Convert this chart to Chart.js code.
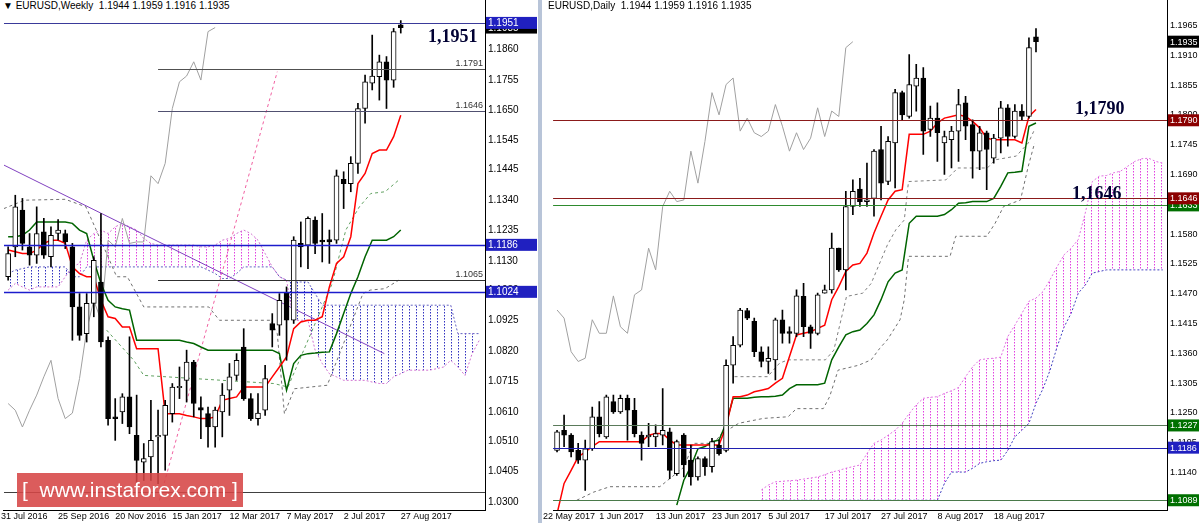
<!DOCTYPE html>
<html>
<head>
<meta charset="utf-8">
<script src="https://cdn.jsdelivr.net/npm/chart.js@4/dist/chart.umd.min.js"></script>
<style>
  body { margin:0; width:1200px; height:523px; background:#fff; position:relative; overflow:hidden; font-family:"Liberation Sans", Arial, sans-serif; }
  .pane { position:absolute; top:-9px; height:532px; }
  #wk { left:0; width:538px; }
  #dy { left:542px; width:658px; }
  #sep { position:absolute; left:538px; top:0; width:4px; height:523px; background:#b8c4d8; }
  .title { position:absolute; top:0; font-size:10px; color:#000; white-space:pre; background:#fff; }
  .note { position:absolute; font:bold 18px "Liberation Serif", serif; color:#000033; }
  #logo { position:absolute; left:17px; top:473px; width:226px; height:34px; background:rgba(214,70,70,0.88); color:#fff; font-size:21px; line-height:34px; text-align:center; white-space:pre; }
</style>
</head>
<body>
<div class="pane" id="wk"><canvas id="weekly"></canvas></div>
<div id="sep"></div>
<div class="pane" id="dy"><canvas id="daily"></canvas></div>
<div class="title" style="left:3px">▼ EURUSD,Weekly  1.1944 1.1959 1.1916 1.1935</div>
<div class="title" style="left:548px">EURUSD,Daily  1.1944 1.1959 1.1916 1.1935</div>
<div class="note" style="left:428px;top:26px">1,1951</div>
<div class="note" style="left:1075px;top:98px">1,1790</div>
<div class="note" style="left:1072px;top:183px">1,1646</div>
<div id="logo">[  www.instaforex.com ]</div>
<script>
// ---------- weekly (index 1 = week of 7 Aug 2016) ----------
const wOpen = [1.1076,1.1179,1.1306,1.1179,1.1150,1.1231,1.1145,1.1225,1.1225,1.1179, 1.0972,1.0880,1.0984,1.1058,1.0857,1.0593,1.0610,1.0662,1.0529,1.0437, 1.0455,1.0524,1.0529,1.0604,1.0694,1.0719,1.0782,1.0625,1.0604,1.0558, 1.0610,1.0685,1.0736,1.0834,1.0656,1.0587,1.0616,1.0915,1.0909,1.1020, 1.0926,1.1191,1.1185,1.1271,1.1202,1.1204,1.1202,1.1412,1.1397,1.1467, 1.1656,1.1743,1.1766,1.1817,1.1754,1.1944];
const wHigh = [1.1179,1.1357,1.1346,1.1225,1.1317,1.1277,1.1248,1.1273,1.1237,1.1191, 1.1018,1.1018,1.1145,1.1294,1.0869,1.0656,1.0673,1.0869,1.0668,1.0501, 1.0650,1.0616,1.0650,1.0708,1.0765,1.0823,1.0788,1.0662,1.0627,1.0627, 1.0708,1.0777,1.0811,1.0897,1.0673,1.0673,1.0771,1.0949,1.1018,1.1041, 1.1214,1.1265,1.1283,1.1283,1.1294,1.1237,1.1444,1.1438,1.1490,1.1674, 1.1771,1.1909,1.1840,1.1835,1.1932,1.1959];
const wLow = [1.1064,1.1145,1.1168,1.1116,1.1122,1.1139,1.1110,1.1202,1.1173,1.0857, 1.0857,1.0851,1.0938,1.0834,1.0564,1.0512,1.0570,1.0535,1.0328,1.0374, 1.0374,1.0363,1.0409,1.0575,1.0656,1.0644,1.0593,1.0518,1.0489,1.0489, 1.0524,1.0598,1.0719,1.0650,1.0581,1.0564,1.0598,1.0834,1.0874,1.0788, 1.0915,1.1110,1.1104,1.1156,1.1127,1.1122,1.1191,1.1311,1.1369,1.1432, 1.1605,1.1720,1.1685,1.1656,1.1729,1.1916];
const wClose = [1.1156,1.1317,1.1191,1.1150,1.1225,1.1150,1.1219,1.1237,1.1196,1.0972, 1.0874,1.0984,1.1133,1.0851,1.0587,1.0587,1.0662,1.0558,1.0443,1.0449, 1.0512,1.0529,1.0633,1.0696,1.0698,1.0782,1.0639,1.0616,1.0558,1.0616, 1.0668,1.0731,1.0788,1.0656,1.0587,1.0606,1.0725,1.0892,1.0995,1.0926, 1.1202,1.1179,1.1277,1.1191,1.1196,1.1196,1.1424,1.1397,1.1467,1.1656, 1.1748,1.1768,1.1817,1.1754,1.1921,1.1935];
const wTenkan = [1.1168,1.1162,1.1156,1.1156,1.1168,1.1191,1.1202,1.1202,1.1191,1.1110, 1.1087,1.1076,1.1076,1.0995,1.0938,1.0932,1.0903,1.0903,1.0828,1.0828, 1.0828,1.0828,1.0604,1.0604,1.0604,1.0598,1.0593,1.0587,1.0587,1.0593, 1.0650,1.0656,1.0662,1.0696,1.0696,1.0696,1.0696,1.0731,1.0765,1.0800, 1.0897,1.0920,1.0926,1.0926,1.0938,1.1041,1.1122,1.1145,1.1214,1.1397, 1.1432,1.1501,1.1513,1.1513,1.1559,1.1633];
const wKijun = [1.1214,1.1214,1.1219,1.1237,1.1265,1.1265,1.1265,1.1265,1.1265,1.1260, 1.1237,1.1225,1.1133,1.1053,1.0995,1.0972,1.0966,1.0961,1.0857,1.0857, 1.0857,1.0857,1.0857,1.0857,1.0857,1.0851,1.0846,1.0834,1.0823,1.0823, 1.0823,1.0823,1.0823,1.0823,1.0823,1.0823,1.0823,1.0823,1.0811,1.0685, 1.0777,1.0805,1.0811,1.0813,1.0816,1.0817,1.0880,1.0949,1.1018,1.1076, 1.1145,1.1202,1.1202,1.1202,1.1214,1.1237];
const wSpanA = [1.1030,1.1053,1.1041,1.1030,1.1041,1.1041,1.1041,1.1041,1.1076,1.1110, 1.1122,1.1202,1.1225,1.1237,1.1225,1.1248,1.1260,1.1248,1.1237,1.1208, 1.1191,1.1185,1.1185,1.1185,1.1185,1.1185,1.1185,1.1179,1.1179,1.1185, 1.1202,1.1208,1.1225,1.1237,1.1225,1.1202,1.1156,1.1110,1.1076,1.1064, 1.0926,1.0926,1.0926,1.0823,1.0777,1.0742,1.0731,1.0719,1.0719,1.0719, 1.0719,1.0713,1.0708,1.0708,1.0731,1.0742,1.0754,1.0754,1.0754,1.0754, 1.0759,1.0765,1.0788,1.0765,1.0736,1.0811,1.0857];
const wSpanB = [1.1087,1.1099,1.1104,1.1110,1.1110,1.1110,1.1110,1.1110,1.1110,1.1076, 1.1076,1.1110,1.1110,1.1110,1.1110,1.1110,1.1110,1.1110,1.1110,1.1110, 1.1110,1.1110,1.1110,1.1110,1.1110,1.1110,1.1110,1.1110,1.1099,1.1087, 1.1070,1.1070,1.1087,1.1110,1.1110,1.1110,1.1110,1.1110,1.1076,1.1064, 1.1058,1.1058,1.1058,1.1018,1.0978,1.0978,1.0978,1.0978,1.0978,1.0978, 1.0978,1.0978,1.0978,1.0978,1.0978,1.0978,1.0978,1.0978,1.0978,1.0978, 1.0978,1.0978,1.0978,1.0880,1.0880,1.0880,1.0880];
// dashed helper lines, sparse [index, price]
const wDash1 = [[0.4,1.1311],[3.3,1.1340],[9,1.1343],[11.9,1.1317],[14.8,1.1156],[16.2,1.1076],[17.7,1.1076],[20,1.0972],[29.1,1.0972],[30.6,1.0926],[37.8,1.0926],[38.7,1.0880],[39.7,1.0604],[41.1,1.0690],[45.7,1.0702],[47.8,1.0834],[50.7,1.1018],[51.7,1.1030],[53.8,1.1035],[55.7,1.1064]];
const wDash2 = [[14.8,1.0892],[18.6,1.0788],[20,1.0736],[31,1.0719],[38.2,1.0708],[40.2,1.0696],[42.6,1.0834],[46.4,1.1053],[48.3,1.1237],[50.2,1.1317],[51.8,1.1363],[53.8,1.1369],[55.7,1.1409]];
const wTrend = [[0.4,1.1461],[53.7,1.0811]];
const wPinkRay = [[22.2,1.0305],[38.7,1.1783]];
const wTicks = [1.0300,1.0405,1.0510,1.0610,1.0715,1.0820,1.0925,1.1030,1.1130,1.1235,1.1340,1.1445,1.1545,1.1650,1.1755,1.1860];
const wDateIdx = [0,8,16,24,32,40,48,56];
const wDates = ['31 Jul 2016','25 Sep 2016','20 Nov 2016','15 Jan 2017','12 Mar 2017','7 May 2017','2 Jul 2017','27 Aug 2017'];

// ---------- daily (index 0 = 24 May 2017) ----------
const dOpen = [1.1181,1.1218,1.1209,1.1181,1.1163,1.1184,1.1243,1.1206,1.1271,1.1252, 1.1277,1.1255,1.1209,1.1206,1.1206,1.1209,1.1215,1.1138,1.1209,1.1163, 1.1132,1.1166,1.1151,1.1191,1.1181,1.1338,1.1375,1.1439,1.1419,1.1363, 1.1345,1.1348,1.1422,1.1400,1.1397,1.1465,1.1409,1.1397,1.1471,1.1477, 1.1554,1.1514,1.1631,1.1663,1.1640,1.1646,1.1736,1.1677,1.1748,1.1841, 1.1797,1.1853,1.1868,1.1773,1.1794,1.1748,1.1754,1.1770,1.1822,1.1782, 1.1733,1.1767,1.1720,1.1757,1.1813,1.1760,1.1807,1.1797,1.1944];
const dHigh = [1.1218,1.1246,1.1212,1.1194,1.1200,1.1261,1.1271,1.1283,1.1283,1.1283, 1.1283,1.1277,1.1215,1.1231,1.1228,1.1295,1.1222,1.1200,1.1212,1.1191, 1.1169,1.1169,1.1203,1.1200,1.1348,1.1391,1.1443,1.1443,1.1425,1.1372, 1.1372,1.1425,1.1440,1.1409,1.1477,1.1489,1.1412,1.1471,1.1486,1.1582, 1.1554,1.1659,1.1680,1.1683,1.1711,1.1736,1.1779,1.1760,1.1847,1.1844, 1.1911,1.1893,1.1887,1.1816,1.1822,1.1770,1.1779,1.1847,1.1834,1.1791, 1.1779,1.1770,1.1764,1.1825,1.1819,1.1819,1.1819,1.1942,1.1959];
const dLow = [1.1178,1.1188,1.1169,1.1157,1.1107,1.1181,1.1206,1.1203,1.1249,1.1249, 1.1200,1.1206,1.1163,1.1188,1.1188,1.1191,1.1129,1.1135,1.1132,1.1117, 1.1126,1.1135,1.1141,1.1172,1.1178,1.1305,1.1372,1.1422,1.1354,1.1335, 1.1323,1.1311,1.1379,1.1379,1.1391,1.1391,1.1369,1.1394,1.1471,1.1471, 1.1511,1.1477,1.1616,1.1631,1.1631,1.1613,1.1643,1.1671,1.1665,1.1791, 1.1794,1.1807,1.1727,1.1760,1.1714,1.1690,1.1702,1.1714,1.1754,1.1683, 1.1699,1.1662,1.1711,1.1730,1.1742,1.1757,1.1791,1.1794,1.1916];
const dClose = [1.1215,1.1209,1.1178,1.1163,1.1184,1.1243,1.1212,1.1280,1.1252,1.1277, 1.1255,1.1212,1.1194,1.1209,1.1212,1.1218,1.1144,1.1197,1.1154,1.1132, 1.1166,1.1151,1.1197,1.1175,1.1338,1.1375,1.1440,1.1425,1.1363,1.1345, 1.1351,1.1422,1.1397,1.1397,1.1466,1.1409,1.1397,1.1468,1.1477,1.1554, 1.1514,1.1631,1.1659,1.1640,1.1643,1.1733,1.1674,1.1751,1.1841,1.1800, 1.1856,1.1868,1.1770,1.1794,1.1767,1.1760,1.1770,1.1819,1.1779,1.1733, 1.1767,1.1736,1.1757,1.1813,1.1760,1.1807,1.1797,1.1924,1.1935];
const dTenkan = [1.1064,1.1120,1.1144,1.1169,1.1178,1.1188,1.1197,1.1197,1.1197,1.1197, 1.1197,1.1197,1.1197,1.1209,1.1212,1.1212,1.1200,1.1191,1.1191,1.1191, 1.1191,1.1191,1.1191,1.1191,1.1225,1.1280,1.1280,1.1283,1.1289,1.1292, 1.1295,1.1305,1.1314,1.1354,1.1394,1.1397,1.1400,1.1406,1.1412,1.1459, 1.1483,1.1511,1.1523,1.1526,1.1545,1.1582,1.1613,1.1643,1.1659,1.1662, 1.1764,1.1764,1.1764,1.1770,1.1785,1.1794,1.1797,1.1800,1.1797,1.1788, 1.1776,1.1757,1.1754,1.1754,1.1754,1.1754,1.1748,1.1797,1.1810];
const dKijun = [null,null,null,null,null,null,null,null,null,null, null,null,null,null,null,null,null,1.1080,1.1126,1.1151, 1.1184,1.1188,1.1197,1.1200,1.1231,1.1277,1.1277,1.1277,1.1279,1.1280, 1.1280,1.1281,1.1283,1.1295,1.1302,1.1302,1.1302,1.1302,1.1305,1.1348, 1.1372,1.1394,1.1400,1.1403,1.1415,1.1431,1.1459,1.1492,1.1508,1.1514, 1.1600,1.1613,1.1613,1.1613,1.1613,1.1616,1.1625,1.1637,1.1638,1.1640, 1.1640,1.1640,1.1646,1.1668,1.1693,1.1694,1.1696,1.1779,1.1785];
// cloud from index 29 onward
const dSpanA = [1.1108,1.1117,1.1123,1.1124,1.1125,1.1126,1.1128,1.1130,1.1132,1.1136, 1.1141,1.1144,1.1148,1.1151,1.1154,1.1175,1.1194,1.1200,1.1209,1.1218, 1.1231,1.1249,1.1265,1.1277,1.1279,1.1280,1.1286,1.1291,1.1297,1.1317, 1.1335,1.1348,1.1350,1.1351,1.1353,1.1391,1.1412,1.1434,1.1456,1.1462, 1.1474,1.1496,1.1520,1.1542,1.1554,1.1570,1.1619,1.1677,1.1687,1.1688, 1.1693,1.1696,1.1705,1.1714,1.1719,1.1720,1.1714,1.1711];
const dSpanB = [1.1089,1.1089,1.1089,1.1089,1.1089,1.1089,1.1089,1.1089,1.1089,1.1089, 1.1089,1.1089,1.1089,1.1089,1.1089,1.1089,1.1089,1.1089,1.1089,1.1089, 1.1089,1.1089,1.1089,1.1089,1.1089,1.1089,1.1120,1.1141,1.1141,1.1141, 1.1148,1.1157,1.1160,1.1162,1.1163,1.1181,1.1206,1.1218,1.1231,1.1268, 1.1295,1.1329,1.1372,1.1409,1.1434,1.1471,1.1486,1.1508,1.1511,1.1514, 1.1514,1.1514,1.1514,1.1514,1.1514,1.1514,1.1514,1.1514];
const dDash1 = [[2.8,1.1089],[5.2,1.1104],[7.5,1.1114],[14.6,1.1114],[18.1,1.1151],[19.3,1.1194],[22.2,1.1194],[23.4,1.1212],[25.8,1.1231],[29.3,1.1240],[32.8,1.1243],[34,1.1258],[37.8,1.1258],[38.7,1.1280],[39.9,1.1329],[42.8,1.1338],[44.6,1.1348],[45.8,1.1369],[46.9,1.1385],[48.7,1.1422],[49.3,1.1459],[49.9,1.1539],[55.8,1.1539],[56.6,1.1576],[61,1.1576],[62.2,1.1600],[63.4,1.1631],[65.8,1.1643],[66.9,1.1705],[67.8,1.1748]];
const dDash2 = [[25.2,1.1317],[29.9,1.1317],[31.6,1.1342],[32.8,1.1348],[38.1,1.1348],[39.3,1.1366],[41.1,1.1465],[43.4,1.1471],[44.6,1.1489],[46.9,1.1560],[48.1,1.1588],[49.3,1.1606],[49.9,1.1677],[55.2,1.1680],[56.9,1.1702],[61.1,1.1702],[62.2,1.1717],[65.2,1.1724],[66.9,1.1748],[67.8,1.1773]];
const dTicks = [1.1085,1.1140,1.1195,1.1250,1.1305,1.1360,1.1415,1.1470,1.1525,1.1580,1.1635,1.1690,1.1745,1.1800,1.1855,1.1910,1.1965];
const dDateIdx = [-2,6,14,22,30,38,46,54,62];
const dDates = ['22 May 2017','1 Jun 2017','13 Jun 2017','23 Jun 2017','5 Jul 2017','17 Jul 2017','27 Jul 2017','8 Aug 2017','18 Aug 2017'];

// levels: [price, colour, width, fromIndex or null]
const wLevels = [[1.1951,'#3a3a9a',1,null],[1.1791,'#505050',1,22],[1.1646,'#505070',1,22],[1.1065,'#303030',1,22],[1.1186,'#1c1ccc',1.5,null],[1.1024,'#1c1ccc',1.5,null],[1.0334,'#404040',1,null]];
const wLevelText = [[1.1791,'1.1791'],[1.1646,'1.1646'],[1.1065,'1.1065']];
const wBoxes = [[1.1935,'#000'],[1.1951,'#2020c0'],[1.1186,'#2020c0'],[1.1024,'#2020c0']];
const dLevels = [[1.1790,'#8b1a1a',1,null],[1.1646,'#8b1a1a',1,null],[1.1633,'#2e8b2e',1,null],[1.1227,'#5a7a5a',1,null],[1.1186,'#2020b0',1,null],[1.1089,'#4a7a4a',1,null]];
const dBoxes = [[1.1935,'#000'],[1.1790,'#8b0000'],[1.1633,'#007000'],[1.1646,'#8b0000'],[1.1227,'#007000'],[1.1186,'#2020c0'],[1.1089,'#007000']];

function dots(color) {
    const c = document.createElement('canvas');
    c.width = 7; c.height = 3;
    const x = c.getContext('2d');
    x.fillStyle = color;
    x.fillRect(3, 0, 1, 1.5);
    return x.createPattern(c, 'repeat');
}

const levelsPlugin = {
    id: 'levels',
    afterDatasetsDraw(chart, args, o) {
        const ctx = chart.ctx, a = chart.chartArea, y = chart.scales.y, x = chart.scales.x;
        ctx.save();
        o.lines.forEach(([v, col, w, from]) => {
            const py = Math.round(y.getPixelForValue(v)) + 0.5;
            const x0 = from === null ? a.left : x.getPixelForValue(from);
            ctx.strokeStyle = col; ctx.lineWidth = w;
            ctx.beginPath(); ctx.moveTo(x0, py); ctx.lineTo(a.right, py); ctx.stroke();
        });
        ctx.font = '9px "Liberation Sans", Arial'; ctx.fillStyle = '#333'; ctx.textAlign = 'right'; ctx.textBaseline = 'bottom';
        (o.texts || []).forEach(([v, t]) => ctx.fillText(t, a.right - 2, y.getPixelForValue(v) - 1));
        ctx.restore();
    },
    afterDraw(chart, args, o) {
        const ctx = chart.ctx, a = chart.chartArea, y = chart.scales.y;
        ctx.save();
        ctx.font = o.font; ctx.textBaseline = 'middle'; ctx.textAlign = 'left';
        o.boxes.forEach(([v, col]) => {
            const py = y.getPixelForValue(v);
            ctx.fillStyle = col;
            ctx.fillRect(a.right + 1, py - 6, chart.width - a.right - 2, 12);
            ctx.fillStyle = '#fff';
            ctx.fillText(v.toFixed(4), a.right + 3, py + 0.5);
        });
        ctx.restore();
    }
};

function candleSets(first, o, h, l, c) {
    const wick = o.map((v, i) => ({ x: first + i, y: [l[i], h[i]] }));
    const body = o.map((v, i) => ({ x: first + i, y: [v, c[i] === v ? v + 0.00003 : c[i]] }));
    const fill = o.map((v, i) => c[i] >= v ? '#fff' : '#000');
    return [
        { type: 'bar', data: body, backgroundColor: fill, borderColor: '#000', borderWidth: 1, borderSkipped: false, barThickness: 5, grouped: false, order: 0 },
        { type: 'bar', data: wick, backgroundColor: '#000', barThickness: 1, grouped: false, order: 1 }
    ];
}

function pts(first, arr) { return arr.map((v, i) => ({ x: first + i, y: v })); }
function pairs(arr) { return arr.map(p => ({ x: p[0], y: p[1] })); }
function line(data, col, extra) {
    return Object.assign({ type: 'line', data, borderColor: col, borderWidth: 1, pointRadius: 0, tension: 0, fill: false, spanGaps: false, order: 2 }, extra || {});
}

function makeChart(id, cfg) {
    return new Chart(document.getElementById(id), {
        type: 'bar',
        data: { datasets: cfg.datasets },
        plugins: [levelsPlugin],
        options: {
            responsive: true, maintainAspectRatio: false, animation: false,
            layout: { padding: { left: cfg.padLeft, top: 0, right: 0, bottom: 0 } },
            plugins: { legend: { display: false }, tooltip: { enabled: false },
                levels: { lines: cfg.levels, texts: cfg.texts, boxes: cfg.boxes, font: cfg.boxFont } },
            scales: {
                x: { type: 'linear', min: cfg.xmin, max: cfg.xmax, offset: false,
                    grid: { display: false, offset: false, tickLength: 0 }, border: { color: '#000' },
                    afterBuildTicks: s => { s.ticks = cfg.dateIdx.map(v => ({ value: v })); },
                    afterFit: s => { s.height = 13; },
                    ticks: { autoSkip: false, maxRotation: 0, align: 'start', padding: 1,
                        font: { size: 9, family: '"Liberation Sans", Arial' }, color: '#000',
                        callback: v => cfg.dates[cfg.dateIdx.indexOf(v)] } },
                y: { position: 'right', min: cfg.ymin, max: cfg.ymax,
                    grid: { display: false, tickLength: 0 }, border: { color: '#000' },
                    afterBuildTicks: s => { s.ticks = cfg.ticks.map(v => ({ value: v })); },
                    afterFit: s => { s.width = cfg.axisW; },
                    ticks: { padding: 3, font: { size: cfg.tickSize, family: '"Liberation Sans", Arial' }, color: '#000',
                        callback: v => v.toFixed(4) } }
            }
        }
    });
}

const pink = dots('#e040e0'), blue = dots('#3030c0');

// chikou = close plotted 26 bars back
const wChikou = wClose.slice(26).map((v, i) => ({ x: i + 1, y: v }));
const dChikou = dClose.slice(26).map((v, i) => ({ x: i, y: v }));

makeChart('weekly', {
    padLeft: 0, xmin: 0.42, xmax: 67.8, ymin: 1.0272, ymax: 1.2030, axisW: 53, tickSize: 10,
    ticks: wTicks, dateIdx: wDateIdx, dates: wDates, levels: wLevels, texts: wLevelText, boxes: wBoxes,
    boxFont: '10px "Liberation Sans", Arial',
    datasets: [
        ...candleSets(1, wOpen, wHigh, wLow, wClose),
        line(pts(1, wSpanA), '#d070d0', { borderDash: [2, 2], fill: { target: '+1', above: pink, below: blue }, order: 5 }),
        line(pts(1, wSpanB), '#6060c0', { borderDash: [2, 2], order: 5 }),
        line(pts(1, wTenkan), '#ff0000', { borderWidth: 1.5 }),
        line(pts(1, wKijun), '#006400', { borderWidth: 1.5 }),
        line(wChikou, '#a0a0a0'),
        line(pairs(wDash1), '#707070', { borderDash: [3, 3] }),
        line(pairs(wDash2), '#60a060', { borderDash: [3, 3] }),
        line(pairs(wTrend), '#8040c0'),
        line(pairs(wPinkRay), '#f060a0', { borderDash: [3, 3] })
    ]
});

makeChart('daily', {
    padLeft: 3, xmin: -0.56, xmax: 86.6, ymin: 1.1071, ymax: 1.2013, axisW: 33, tickSize: 9,
    ticks: dTicks, dateIdx: dDateIdx, dates: dDates, levels: dLevels, texts: [], boxes: dBoxes,
    boxFont: '9px "Liberation Sans", Arial',
    datasets: [
        ...candleSets(0, dOpen, dHigh, dLow, dClose),
        line(pts(29, dSpanA), '#e070e0', { borderDash: [2, 2], fill: { target: '+1', above: pink, below: blue }, order: 5 }),
        line(pts(29, dSpanB), '#4040c0', { borderDash: [2, 2], order: 5 }),
        line(pts(0, dTenkan), '#ff0000', { borderWidth: 1.5 }),
        line(pts(0, dKijun), '#006400', { borderWidth: 1.5 }),
        line(dChikou, '#a0a0a0'),
        line(pairs(dDash1), '#707070', { borderDash: [3, 3] }),
        line(pairs(dDash2), '#808080', { borderDash: [3, 3] })
    ]
});
</script>
</body>
</html>
